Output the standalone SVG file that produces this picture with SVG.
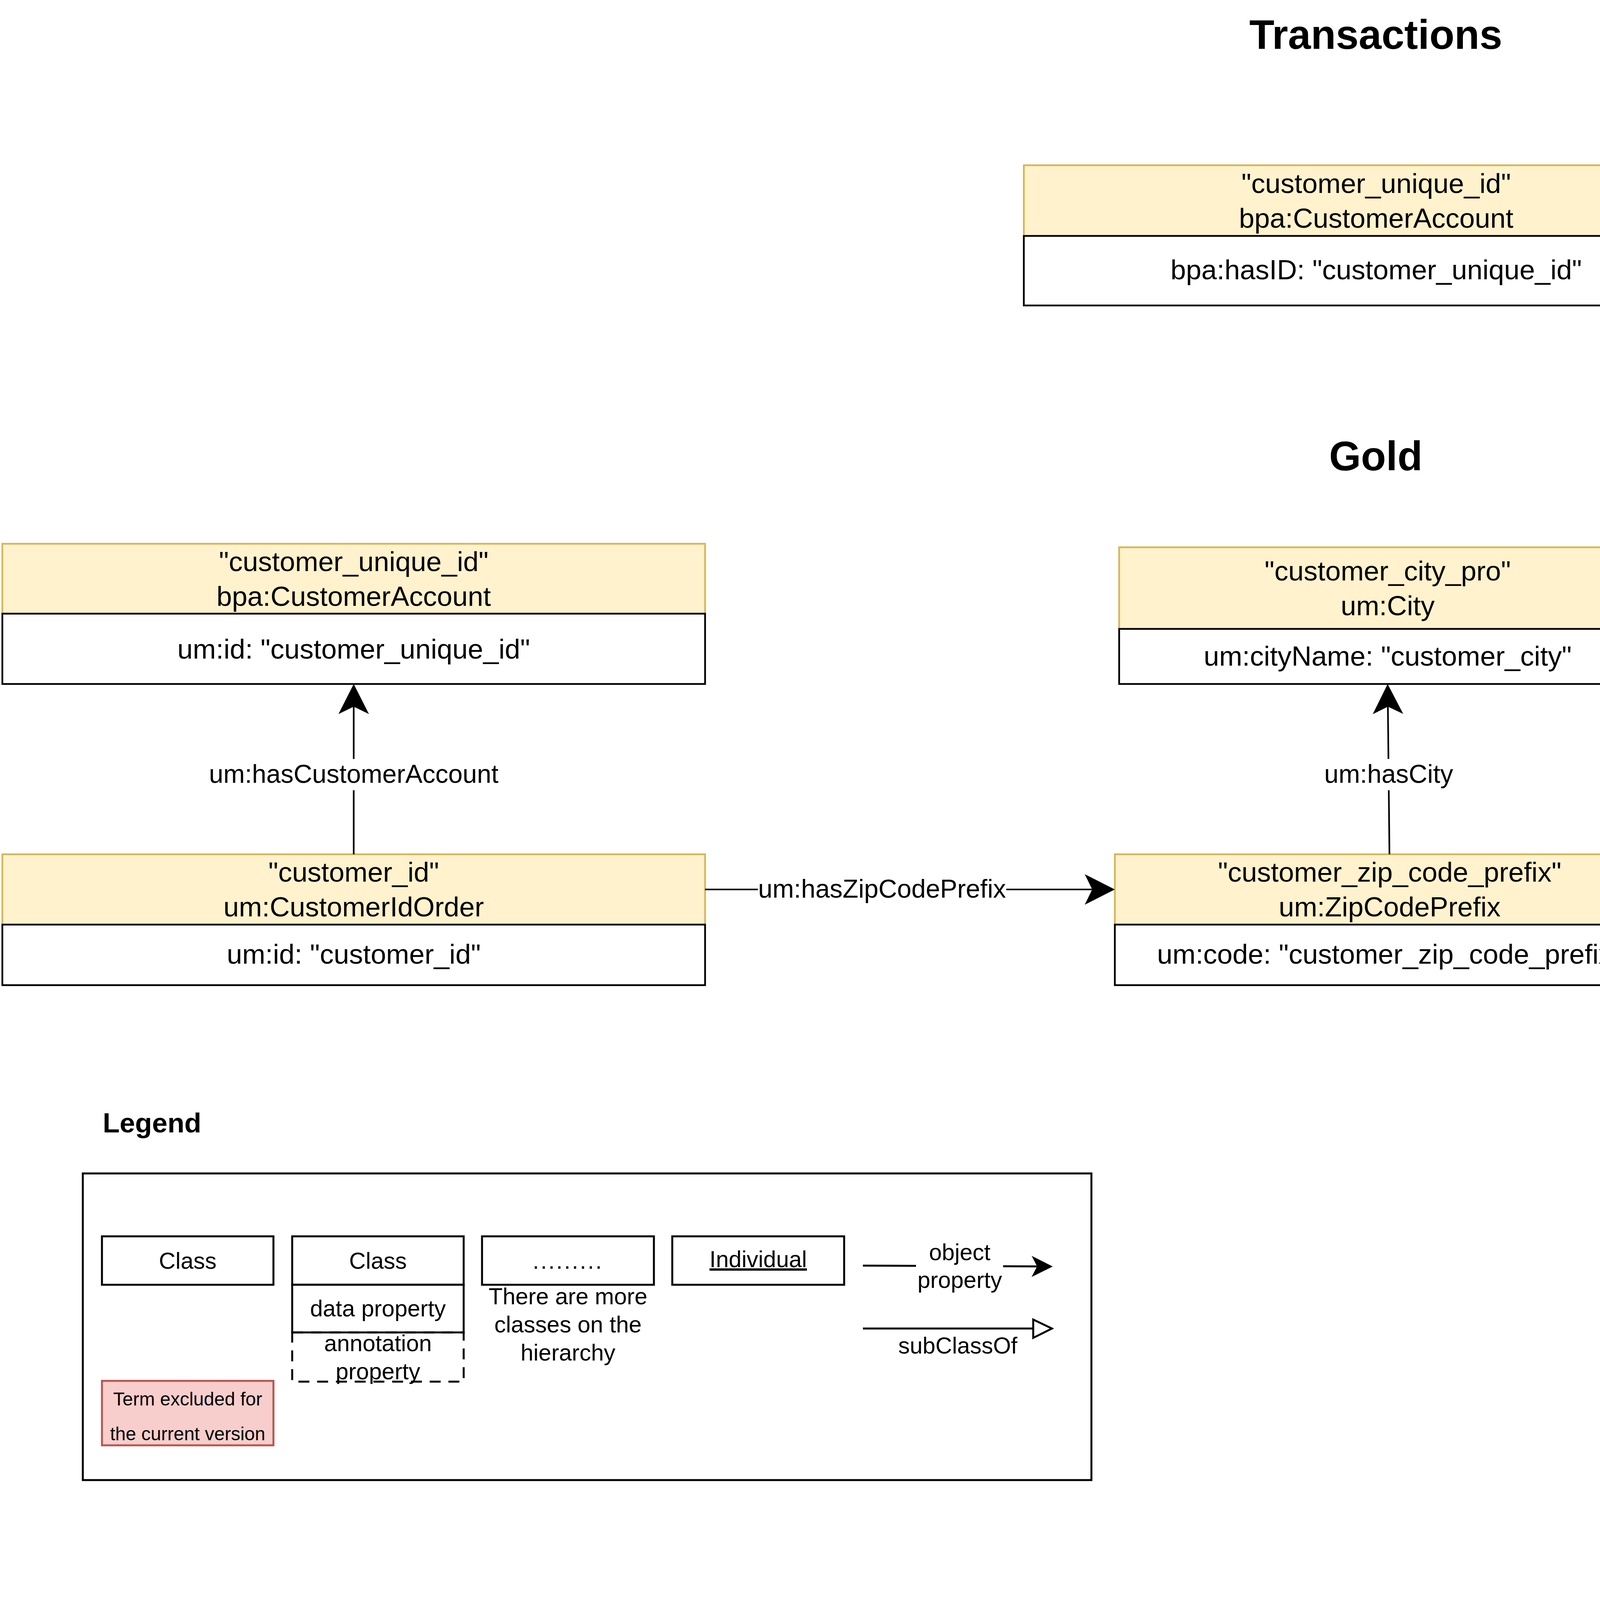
<svg xmlns="http://www.w3.org/2000/svg" width="6576" height="4128" viewBox="0 0 6576 4128">
<style>
text{font-family:"Liberation Sans",Arial,sans-serif;fill:#000}
.title{font-size:105px;font-weight:bold;text-anchor:middle}
.nt{font-size:71px;text-anchor:middle}
.el{font-size:66px;text-anchor:middle}
.lg{font-size:59px;text-anchor:middle}
.hdr{fill:#fff2cc;stroke:#d6b656;stroke-width:4.5}
.body{fill:#ffffff;stroke:#000;stroke-width:4.5}
.edge{fill:none;stroke:#000;stroke-width:4.2}
.lbg{fill:#ffffff}
.lbox{fill:#ffffff;stroke:#000;stroke-width:5}
</style>
<defs>
<marker id="arr" viewBox="0 0 80 80" markerWidth="80" markerHeight="80" refX="19" refY="40" orient="auto" markerUnits="userSpaceOnUse">
<path d="M77,40 L0,1 L19,40 L0,79 Z" fill="#000"/>
</marker>
<marker id="arrS" viewBox="0 0 56 56" markerWidth="56" markerHeight="56" refX="14" refY="28" orient="auto" markerUnits="userSpaceOnUse">
<path d="M54,28 L0,1 L14,28 L0,55 Z" fill="#000"/>
</marker>
</defs>
<rect x="0" y="0" width="6576" height="4128" fill="#ffffff"/>

<g id="title-transactions"><text class="title" x="3522" y="125">Transactions</text></g>
<g id="title-gold"><text class="title" x="3522" y="1204">Gold</text></g>

<g id="node-tx-customer-account">
<rect class="hdr" x="2621" y="423" width="1804" height="181"/>
<rect class="body" x="2621" y="604" width="1804" height="178"/>
<text class="nt" x="3523" y="494">"customer_unique_id"</text>
<text class="nt" x="3523" y="583">bpa:CustomerAccount</text>
<text class="nt" x="3523" y="715">bpa:hasID: "customer_unique_id"</text>
</g>

<g id="node-customer-account">
<rect class="hdr" x="6" y="1392" width="1799" height="179"/>
<rect class="body" x="6" y="1571" width="1799" height="180"/>
<text class="nt" x="905.5" y="1462">"customer_unique_id"</text>
<text class="nt" x="905.5" y="1551">bpa:CustomerAccount</text>
<text class="nt" x="905.5" y="1686">um:id: "customer_unique_id"</text>
</g>

<g id="node-customer-id-order">
<rect class="hdr" x="6" y="2187" width="1799" height="180"/>
<rect class="body" x="6" y="2367" width="1799" height="155"/>
<text class="nt" x="905.5" y="2257">"customer_id"</text>
<text class="nt" x="905.5" y="2346">um:CustomerIdOrder</text>
<text class="nt" x="905.5" y="2467">um:id: "customer_id"</text>
</g>

<g id="node-city">
<rect class="hdr" x="2865" y="1401" width="1375" height="209"/>
<rect class="body" x="2865" y="1610" width="1375" height="141"/>
<text class="nt" x="3552.5" y="1486">"customer_city_pro"</text>
<text class="nt" x="3552.5" y="1575">um:City</text>
<text class="nt" x="3552.5" y="1704">um:cityName: "customer_city"</text>
</g>

<g id="node-zip">
<rect class="hdr" x="2854" y="2187" width="1407" height="180"/>
<rect class="body" x="2854" y="2367" width="1407" height="155"/>
<text class="nt" x="3557.5" y="2257">"customer_zip_code_prefix"</text>
<text class="nt" x="3557.5" y="2346">um:ZipCodePrefix</text>
<text class="nt" x="3557.5" y="2467">um:code: "customer_zip_code_prefix"</text>
</g>

<g id="node-state">
<rect class="hdr" x="4953" y="1389" width="1353" height="243"/>
<rect class="body" x="4953" y="1632" width="1353" height="126"/>
<text class="nt" x="5629.5" y="1491">"customer_state"</text>
<text class="nt" x="5629.5" y="1580">um:State</text>
<text class="nt" x="5629.5" y="1716">um:stateName: "customer_state"</text>
</g>

<g id="connectors">
<path class="edge" d="M905.5,2187 L905.5,1809" marker-end="url(#arr)"/>
<rect class="lbg" x="533" y="1943" width="745" height="80"/>
<text class="el" x="905.5" y="2004">um:hasCustomerAccount</text>

<path class="edge" d="M3557,2187 L3553,1809" marker-end="url(#arr)"/>
<rect class="lbg" x="3388" y="1943" width="334" height="80"/>
<text class="el" x="3555" y="2004">um:hasCity</text>

<path class="edge" d="M1805,2277 L2796,2277" marker-end="url(#arr)"/>
<rect class="lbg" x="1940" y="2238" width="636" height="78"/>
<text class="el" x="2258" y="2298">um:hasZipCodePrefix</text>

<path class="edge" d="M4240,1506 L4895,1510.6" marker-end="url(#arr)"/>
<rect class="lbg" x="4409" y="1465" width="370" height="76"/>
<text class="el" x="4594" y="1523">um:hasState</text>
</g>

<g id="legend">
<text x="263" y="2899" style="font-size:71px;font-weight:bold">Legend</text>
<rect x="212" y="3004" width="2582" height="785" fill="none" stroke="#000" stroke-width="5"/>

<g id="legend-class">
<rect class="lbox" x="261" y="3165" width="439" height="124"/>
<text class="lg" x="480.5" y="3248">Class</text>
</g>

<g id="legend-class-props">
<rect class="lbox" x="748" y="3165" width="439" height="124"/>
<text class="lg" x="967.5" y="3248">Class</text>
<rect class="lbox" x="748" y="3289" width="439" height="122"/>
<text class="lg" x="967.5" y="3370">data property</text>
<rect x="748" y="3411" width="439" height="126" fill="none" stroke="#000" stroke-width="5" stroke-dasharray="28 20"/>
<text class="lg" x="967.5" y="3459">annotation</text>
<text class="lg" x="967.5" y="3531">property</text>
</g>

<g id="legend-more">
<rect class="lbox" x="1234" y="3165" width="440" height="124"/>
<text class="lg" x="1454" y="3248" style="letter-spacing:3.7px">.........</text>
<text class="lg" x="1454" y="3339">There are more</text>
<text class="lg" x="1454" y="3411">classes on the</text>
<text class="lg" x="1454" y="3483">hierarchy</text>
</g>

<g id="legend-individual">
<rect class="lbox" x="1721" y="3165" width="440" height="124"/>
<text class="lg" x="1941" y="3244" style="text-decoration:underline">Individual</text>
</g>

<g id="legend-excluded">
<rect x="261" y="3535" width="439" height="165" fill="#f8cecc" stroke="#b85450" stroke-width="5"/>
<text x="480.5" y="3598" style="font-size:48px;text-anchor:middle">Term excluded for</text>
<text x="480.5" y="3687" style="font-size:48px;text-anchor:middle">the current version</text>
</g>

<g id="legend-object-property">
<path class="edge" d="M2209,3240 L2655,3242" marker-end="url(#arrS)" style="stroke-width:5"/>
<rect class="lbg" x="2345" y="3160" width="223" height="160"/>
<text class="lg" x="2457" y="3226">object</text>
<text class="lg" x="2457" y="3297">property</text>
</g>

<g id="legend-subclass">
<path class="edge" d="M2209,3401 L2645,3401" style="stroke-width:5"/>
<path d="M2645,3378 L2693,3401 L2645,3425 Z" fill="#ffffff" stroke="#000" stroke-width="5"/>
<text class="lg" x="2452" y="3465">subClassOf</text>
</g>
</g>

<g id="source-file">
<path d="M4171,3179 H6573 V3489.5 Q5972.5,3427.4 5372,3489.5 Q4771.5,3551.6 4171,3489.5 Z" fill="#ffffff" stroke="#000" stroke-width="5"/>
<text x="5375" y="3350" style="font-size:71px;text-anchor:middle"><tspan style="font-weight:bold">source file</tspan>: <tspan style="font-family:'DejaVu Sans Mono',monospace;font-size:77px;fill:#0000ff">olist_customers_dataset_no_quotes_20K.csv</tspan></text>
</g>
</svg>
